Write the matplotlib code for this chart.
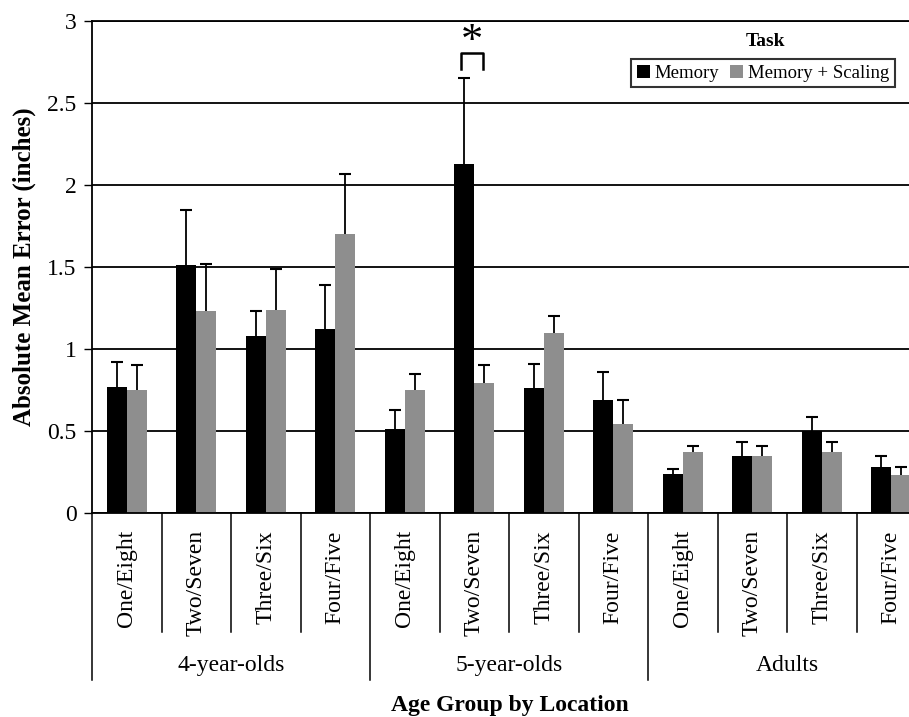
from matplotlib import pyplot as plt
import numpy as np

plt.rcParams['font.family'] = ['Liberation Serif', 'DejaVu Serif']

groups = ['4-year-olds', '5-year-olds', 'Adults']
locations = ['One/Eight', 'Two/Seven', 'Three/Six', 'Four/Five']

# absolute mean error (inches), 12 bars per series: 3 groups x 4 locations
memory = [0.77, 1.51, 1.08, 1.12, 0.51, 2.13, 0.76, 0.69, 0.24, 0.35, 0.50, 0.28]
memory_err = [0.15, 0.34, 0.15, 0.27, 0.12, 0.52, 0.15, 0.17, 0.03, 0.08, 0.085, 0.065]
scaling = [0.75, 1.23, 1.24, 1.70, 0.75, 0.79, 1.10, 0.54, 0.37, 0.35, 0.37, 0.23]
scaling_err = [0.15, 0.29, 0.25, 0.37, 0.10, 0.11, 0.10, 0.15, 0.04, 0.06, 0.06, 0.05]

W, H = 909, 717
fig = plt.figure(figsize=(W / 100, H / 100), dpi=100)
# axes runs a little past the right edge, like the cropped original
ax = fig.add_axes([92 / W, (H - 513) / H, 834 / W, 492 / H])

n = len(memory)
x = np.arange(n) + 0.5
bw = 0.285
gray = '#8e8e8e'

ax.bar(x - bw / 2, memory, bw, color='black', label='Memory', zorder=2)
ax.bar(x + bw / 2, scaling, bw, color=gray, label='Memory + Scaling', zorder=2)

# upper-only error bars (stem + cap, no cap at the bar top)
for xs, vals, errs in [(x - bw / 2, memory, memory_err), (x + bw / 2, scaling, scaling_err)]:
    tops = np.array(vals) + np.array(errs)
    ax.vlines(xs, vals, tops, color='black', linewidth=1.3, zorder=3)
    ax.plot(xs, tops, ls='none', marker='_', ms=8, mew=1.5, color='black', zorder=3)

ax.set_xlim(0, n)
ax.set_ylim(0, 3)
ax.set_yticks([0, 0.5, 1, 1.5, 2, 2.5, 3])
ax.set_yticklabels(['0', '0.5', '1', '1.5', '2', '2.5', '3'], fontsize=17)
ax.tick_params(axis='y', length=6, width=1, pad=5)
ax.set_xticks([])
ax.yaxis.grid(True, color='black', linewidth=1.3)
ax.set_axisbelow(True)
for s in ['top', 'right']:
    ax.spines[s].set_visible(False)
ax.spines['left'].set_linewidth(1.3)
ax.spines['bottom'].set_linewidth(1.3)
ax.axhline(3, color='black', linewidth=1.3, clip_on=False)

ax.set_ylabel('Absolute Mean Error (inches)', fontsize=18, fontweight='bold', labelpad=8)

# two-level category axis
tr = ax.get_xaxis_transform()
for i in range(n + 1):
    low = -0.339 if i % 4 == 0 else -0.241
    ax.plot([i, i], [0, low], color='black', linewidth=1.1, transform=tr, clip_on=False)
for i in range(n):
    ax.text(x[i], -0.035, locations[i % 4], rotation=90, ha='center', va='top',
            fontsize=17, transform=tr)
for g, name in enumerate(groups):
    ax.text(g * 4 + 2, -0.31, name, ha='center', va='center', fontsize=17, transform=tr)
ax.text((510 - 92) / 834, -0.392, 'Age Group by Location',
        ha='center', va='center', fontsize=17, fontweight='bold', transform=ax.transAxes)

# significance bracket over 5-year-olds Two/Seven
x1, x2 = 5.31, 5.62
ax.plot([x1, x1, x2, x2], [2.71, 2.807, 2.807, 2.71], color='black', linewidth=1.8, zorder=4)
ax.text((x1 + x2) / 2, 2.87, '*', ha='center', va='center', fontsize=32, zorder=4)

leg = ax.legend(loc='upper right', bbox_to_anchor=(895 / W, (H - 59) / H),
                bbox_transform=fig.transFigure, ncol=2, fontsize=13.5, frameon=True,
                fancybox=False, edgecolor='black', borderpad=0.3, handlelength=0.7,
                handleheight=0.7, handletextpad=0.25, columnspacing=0.6,
                borderaxespad=0)
leg.get_frame().set_linewidth(1.5)
fig.text(765 / W, (H - 41) / H, 'Task', ha='center', va='center', fontsize=14,
         fontweight='bold')

fig.savefig('out.png', dpi=100)
